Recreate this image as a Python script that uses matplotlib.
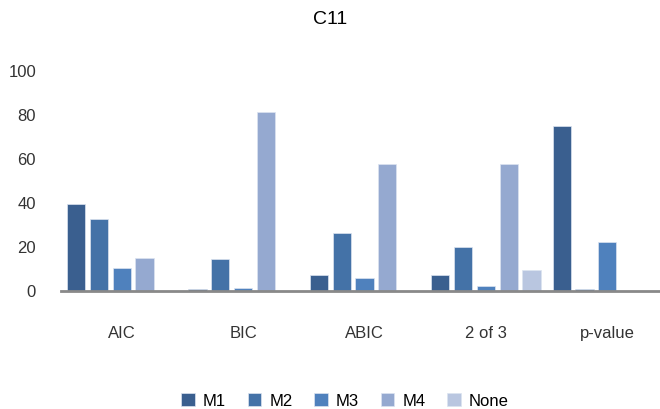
import numpy as np
import matplotlib
matplotlib.use('Agg')
import matplotlib.pyplot as plt

plt.rcParams['font.family'] = ['Liberation Sans', 'DejaVu Sans']

# criteria on the x axis, one bar per model
criteria = ['AIC', 'BIC', 'ABIC', '2 of 3', 'p-value']
models = ['M1', 'M2', 'M3', 'M4', 'None']
m1 = [39.5, 1, 7.5, 7.5, 75]
m2 = [32.7, 14.5, 26.4, 20, 1]
m3 = [10.5, 1.5, 6, 2.5, 22.3]
m4 = [15, 81.4, 57.7, 57.7, 0]
none = [0, 0, 0, 9.5, 0]
colors = ['#3a5f8f', '#4472a7', '#4f81bd', '#95a9d0', '#b9c6e0']

series = [m1, m2, m3, m4, none]

fig = plt.figure(figsize=(6.6, 4.09), dpi=100)
ax = fig.add_axes([61/660, 1 - 291/409, 607/660, 220/409])

x = np.arange(len(criteria))
step = 0.1875
for i, vals in enumerate(series):
    ax.bar(x + (i - 2) * step, vals, width=0.15, color=colors[i],
           edgecolor='#dce4f0', linewidth=0.5, label=models[i])

ax.set_xlim(-0.5, 4.5)
ax.set_ylim(0, 100)
ax.set_yticks([0, 20, 40, 60, 80, 100])
ax.set_xticks(x)
ax.set_xticklabels(criteria)
ax.tick_params(axis='both', length=0, labelsize=12, colors='#333333')
ax.tick_params(axis='x', pad=25)
ax.tick_params(axis='y', pad=18)
for s in ['top', 'right', 'left']:
    ax.spines[s].set_visible(False)
ax.spines['bottom'].set_color('#898989')
ax.spines['bottom'].set_linewidth(2)

fig.text(0.5, 1 - 20/409, 'C11', ha='center', va='center', fontsize=14)

fig.legend(loc='center', bbox_to_anchor=(345/660, 1 - 401/409), ncol=5,
           frameon=False, fontsize=12, handlelength=0.8, handleheight=0.8,
           columnspacing=1.3, handletextpad=0.5)

fig.savefig('out.png', dpi=100)
